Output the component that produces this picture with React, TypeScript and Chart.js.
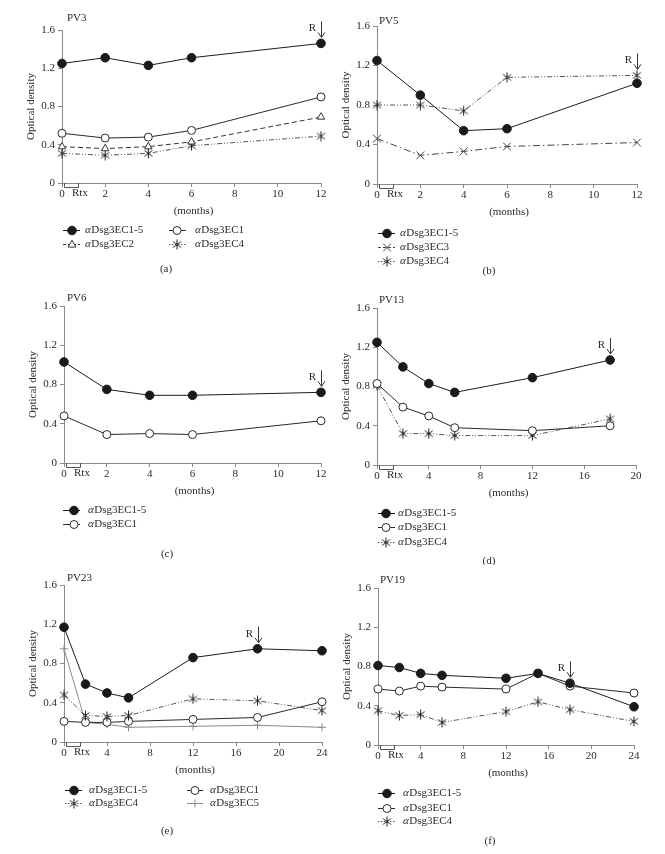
import React, { useEffect, useRef } from 'react';
import { Chart, registerables } from 'chart.js';

Chart.register(...registerables);

const FONT = '"Liberation Serif", "DejaVu Serif", serif';
const TEXT = '#2a2a2a';
const AXIS = '#8a8a8a';

// ---------- data ----------
const Y_TICKS = [0, 0.4, 0.8, 1.2, 1.6];
const X_TICKS_12 = [0, 2, 4, 6, 8, 10, 12];
const X_TICKS_20 = [0, 4, 8, 12, 16, 20];
const X_TICKS_24 = [0, 4, 8, 12, 16, 20, 24];

// (a) PV3
const A_MONTHS = [0, 2, 4, 6, 12];
const A_EC15 = [1.25, 1.31, 1.23, 1.31, 1.46];
const A_EC1 = [0.52, 0.47, 0.48, 0.55, 0.9];
const A_EC2 = [0.38, 0.36, 0.38, 0.43, 0.69];
const A_EC4 = [0.31, 0.29, 0.31, 0.39, 0.49];

// (b) PV5
const B_MONTHS = [0, 2, 4, 6, 12];
const B_EC15 = [1.25, 0.9, 0.54, 0.56, 1.02];
const B_EC3 = [0.46, 0.29, 0.33, 0.38, 0.42];
const B_EC4 = [0.8, 0.8, 0.74, 1.08, 1.1];

// (c) PV6
const C_MONTHS = [0, 2, 4, 6, 12];
const C_EC15 = [1.03, 0.75, 0.69, 0.69, 0.72];
const C_EC1 = [0.48, 0.29, 0.3, 0.29, 0.43];

// (d) PV13
const D_MONTHS = [0, 2, 4, 6, 12, 18];
const D_EC15 = [1.25, 1.0, 0.83, 0.74, 0.89, 1.07];
const D_EC1 = [0.83, 0.59, 0.5, 0.38, 0.35, 0.4];
const D_EC4 = [0.81, 0.32, 0.32, 0.3, 0.3, 0.47];

// (e) PV23
const E_MONTHS = [0, 2, 4, 6, 12, 18, 24];
const E_EC15 = [1.17, 0.59, 0.5, 0.45, 0.86, 0.95, 0.93];
const E_EC4 = [0.48, 0.27, 0.26, 0.27, 0.44, 0.42, 0.32];
const E_EC1 = [0.21, 0.2, 0.2, 0.21, 0.23, 0.25, 0.41];
const E_EC5 = [0.95, 0.2, 0.18, 0.15, 0.16, 0.17, 0.15];

// (f) PV19
const F_MONTHS = [0, 2, 4, 6, 12, 15, 18, 24];
const F_EC15 = [0.81, 0.79, 0.73, 0.71, 0.68, 0.73, 0.63, 0.39];
const F_EC1 = [0.57, 0.55, 0.6, 0.59, 0.57, 0.73, 0.6, 0.53];
const F_EC4 = [0.35, 0.3, 0.31, 0.23, 0.34, 0.44, 0.36, 0.24];

// ---------- styles ----------
type Key = 'EC15' | 'EC1' | 'EC2' | 'EC3' | 'EC4' | 'EC5';
const NAMES: Record<Key, string> = {
  EC15: 'Dsg3EC1-5',
  EC1: 'Dsg3EC1',
  EC2: 'Dsg3EC2',
  EC3: 'Dsg3EC3',
  EC4: 'Dsg3EC4',
  EC5: 'Dsg3EC5',
};

function makeAsterisk(): HTMLCanvasElement {
  const c = document.createElement('canvas');
  c.width = 11;
  c.height = 11;
  const x = c.getContext('2d')!;
  x.strokeStyle = '#222';
  x.lineWidth = 1;
  x.beginPath();
  x.moveTo(1.5, 2.5);
  x.lineTo(9.5, 8.5);
  x.moveTo(9.5, 2.5);
  x.lineTo(1.5, 8.5);
  x.moveTo(5.5, 0.5);
  x.lineTo(5.5, 10.5);
  x.stroke();
  return c;
}
const ASTERISK = makeAsterisk();

const STYLE: Record<Key, any> = {
  EC15: { color: '#1a1a1a', dash: [], point: 'circle', bg: '#1a1a1a', r: 4.3 },
  EC1: { color: '#2a2a2a', dash: [], point: 'circle', bg: '#ffffff', r: 4 },
  EC2: { color: '#333333', dash: [5, 3], point: 'triangle', bg: '#ffffff', r: 4.3 },
  EC3: { color: '#444444', dash: [7, 3, 1.5, 3], point: 'crossRot', bg: '#ffffff', r: 5.5 },
  EC4: { color: '#555555', dash: [5, 2, 1, 2, 1, 2], point: ASTERISK, bg: '#ffffff', r: 4 },
  EC5: { color: '#8a8a8a', dash: [], point: 'cross', bg: '#ffffff', r: 4 },
};

function drawMarker(ctx: CanvasRenderingContext2D, key: Key, x: number, y: number) {
  const s = STYLE[key];
  ctx.save();
  ctx.setLineDash([]);
  ctx.lineWidth = 1;
  ctx.strokeStyle = s.color;
  ctx.fillStyle = s.bg;
  const r = s.r;
  if (s.point === 'circle') {
    ctx.beginPath();
    ctx.arc(x, y, r, 0, Math.PI * 2);
    ctx.fill();
    ctx.stroke();
  } else if (s.point === 'triangle') {
    ctx.beginPath();
    ctx.moveTo(x, y - r);
    ctx.lineTo(x + r * 0.9, y + r * 0.6);
    ctx.lineTo(x - r * 0.9, y + r * 0.6);
    ctx.closePath();
    ctx.fill();
    ctx.stroke();
  } else if (s.point === 'crossRot') {
    const d = r * 0.7;
    ctx.beginPath();
    ctx.moveTo(x - d, y - d);
    ctx.lineTo(x + d, y + d);
    ctx.moveTo(x + d, y - d);
    ctx.lineTo(x - d, y + d);
    ctx.stroke();
  } else if (s.point === 'cross') {
    ctx.beginPath();
    ctx.moveTo(x - r, y);
    ctx.lineTo(x + r, y);
    ctx.moveTo(x, y - r);
    ctx.lineTo(x, y + r);
    ctx.stroke();
  } else {
    ctx.drawImage(s.point, x - 5.5, y - 5.5);
  }
  ctx.restore();
}

// ---------- layout ----------
type Panel = {
  id: string;
  canvas: { x: number; y: number; w: number; h: number };
  area: { l: number; t: number; r: number; b: number };
  xMax: number;
  xTicks: number[];
  months: number[];
  series: [Key, number[]][];
  pv: string;
  pvDx: number;
  pvDy: number;
  rAt: number;
  cols: number[][]; // [lineStart, lineEnd, markerX, textX]
  rows: number[];
  items: [Key, number, number][]; // key, col, row
  caption: string;
  capX: number;
  capY: number;
};

const PANELS: Panel[] = [
  {
    id: 'a', canvas: { x: 0, y: 0, w: 332, h: 285 }, area: { l: 62, t: 30, r: 321, b: 183 },
    xMax: 12, xTicks: X_TICKS_12, months: A_MONTHS,
    series: [['EC15', A_EC15], ['EC1', A_EC1], ['EC2', A_EC2], ['EC4', A_EC4]],
    pv: 'PV3', pvDx: 5, pvDy: -12, rAt: 12,
    cols: [[63, 80, 72, 85], [169, 186, 177, 195]], rows: [230, 244],
    items: [['EC15', 0, 0], ['EC1', 1, 0], ['EC2', 0, 1], ['EC4', 1, 1]],
    caption: '(a)', capX: 166, capY: 269,
  },
  {
    id: 'b', canvas: { x: 332, y: 0, w: 333, h: 285 }, area: { l: 377, t: 26, r: 637, b: 184 },
    xMax: 12, xTicks: X_TICKS_12, months: B_MONTHS,
    series: [['EC15', B_EC15], ['EC3', B_EC3], ['EC4', B_EC4]],
    pv: 'PV5', pvDx: 2, pvDy: -5, rAt: 12,
    cols: [[378, 395, 387, 400]], rows: [233, 247, 261],
    items: [['EC15', 0, 0], ['EC3', 0, 1], ['EC4', 0, 2]],
    caption: '(b)', capX: 489, capY: 271,
  },
  {
    id: 'c', canvas: { x: 0, y: 285, w: 332, h: 280 }, area: { l: 64, t: 306, r: 321, b: 463 },
    xMax: 12, xTicks: X_TICKS_12, months: C_MONTHS,
    series: [['EC15', C_EC15], ['EC1', C_EC1]],
    pv: 'PV6', pvDx: 3, pvDy: -8, rAt: 12,
    cols: [[63, 80, 74, 88]], rows: [510, 524],
    items: [['EC15', 0, 0], ['EC1', 0, 1]],
    caption: '(c)', capX: 167, capY: 554,
  },
  {
    id: 'd', canvas: { x: 332, y: 285, w: 333, h: 280 }, area: { l: 377, t: 308, r: 636, b: 465 },
    xMax: 20, xTicks: X_TICKS_20, months: D_MONTHS,
    series: [['EC15', D_EC15], ['EC1', D_EC1], ['EC4', D_EC4]],
    pv: 'PV13', pvDx: 2, pvDy: -8, rAt: 18,
    cols: [[378, 395, 386, 398]], rows: [513, 527, 542],
    items: [['EC15', 0, 0], ['EC1', 0, 1], ['EC4', 0, 2]],
    caption: '(d)', capX: 489, capY: 561,
  },
  {
    id: 'e', canvas: { x: 0, y: 565, w: 332, h: 289 }, area: { l: 64, t: 585, r: 322, b: 742 },
    xMax: 24, xTicks: X_TICKS_24, months: E_MONTHS,
    series: [['EC15', E_EC15], ['EC4', E_EC4], ['EC1', E_EC1], ['EC5', E_EC5]],
    pv: 'PV23', pvDx: 3, pvDy: -7, rAt: 18,
    cols: [[65, 82, 74, 89], [187, 203, 195, 210]], rows: [790, 803],
    items: [['EC15', 0, 0], ['EC1', 1, 0], ['EC4', 0, 1], ['EC5', 1, 1]],
    caption: '(e)', capX: 167, capY: 831,
  },
  {
    id: 'f', canvas: { x: 332, y: 565, w: 333, h: 289 }, area: { l: 378, t: 588, r: 634, b: 745 },
    xMax: 24, xTicks: X_TICKS_24, months: F_MONTHS,
    series: [['EC15', F_EC15], ['EC1', F_EC1], ['EC4', F_EC4]],
    pv: 'PV19', pvDx: 2, pvDy: -8, rAt: 18,
    cols: [[378, 395, 387, 403]], rows: [793, 808, 821],
    items: [['EC15', 0, 0], ['EC1', 0, 1], ['EC4', 0, 2]],
    caption: '(f)', capX: 490, capY: 841,
  },
];

const Y_AXIS_W = 40;
const X_AXIS_H = 30;

function decorPlugin(p: Panel) {
  return {
    id: 'decor_' + p.id,
    afterDraw(chart: any) {
      const ctx: CanvasRenderingContext2D = chart.ctx;
      const { left, top, right, bottom } = chart.chartArea;
      const ox = p.canvas.x;
      const oy = p.canvas.y;
      ctx.save();
      ctx.fillStyle = TEXT;
      ctx.font = `11px ${FONT}`;

      // y title
      ctx.save();
      ctx.translate(left - 31, (top + bottom) / 2);
      ctx.rotate(-Math.PI / 2);
      ctx.textAlign = 'center';
      ctx.textBaseline = 'middle';
      ctx.fillText('Optical density', 0, 0);
      ctx.restore();

      // x title
      ctx.textAlign = 'center';
      ctx.textBaseline = 'middle';
      ctx.fillText('(months)', (left + right) / 2 + 2, bottom + 28);

      // PV label
      ctx.textAlign = 'left';
      ctx.fillText(p.pv, left + p.pvDx, top + p.pvDy);

      // Rtx bracket
      ctx.strokeStyle = '#555';
      ctx.lineWidth = 1;
      ctx.beginPath();
      ctx.moveTo(left + 2.5, bottom);
      ctx.lineTo(left + 2.5, bottom + 4.5);
      ctx.lineTo(left + 16.5, bottom + 4.5);
      ctx.lineTo(left + 16.5, bottom);
      ctx.stroke();
      ctx.textAlign = 'left';
      ctx.fillText('Rtx', left + 10, bottom + 10.5);

      // R arrow
      const xs = chart.scales.x;
      const ys = chart.scales.y;
      const idx = p.months.indexOf(p.rAt);
      let maxV = 0;
      p.series.forEach(([, v]) => { if (v[idx] > maxV) maxV = v[idx]; });
      const px = Math.round(xs.getPixelForValue(p.rAt)) + 0.5;
      const py = ys.getPixelForValue(maxV);
      ctx.strokeStyle = '#333';
      ctx.beginPath();
      ctx.moveTo(px, py - 22);
      ctx.lineTo(px, py - 6);
      ctx.moveTo(px - 3.5, py - 11);
      ctx.lineTo(px, py - 6);
      ctx.lineTo(px + 3.5, py - 11);
      ctx.stroke();
      ctx.textAlign = 'center';
      ctx.fillText('R', px - 9, py - 15);

      // legend
      p.items.forEach(([key, c, r]) => {
        const col = p.cols[c];
        const y = p.rows[r] - oy;
        const s = STYLE[key];
        ctx.save();
        ctx.strokeStyle = s.color;
        ctx.lineWidth = 1;
        ctx.setLineDash(key === 'EC4' ? [1.5, 1.5] : key === 'EC2' || key === 'EC3' ? [3, 2] : []);
        ctx.beginPath();
        ctx.moveTo(col[0] - ox, y + 0.5);
        ctx.lineTo(col[1] - ox, y + 0.5);
        ctx.stroke();
        ctx.restore();
        drawMarker(ctx, key, col[2] - ox, y + 0.5);
        ctx.textAlign = 'left';
        ctx.textBaseline = 'middle';
        ctx.font = `italic 11px ${FONT}`;
        ctx.fillText('\u03b1', col[3] - ox, y);
        const w = ctx.measureText('\u03b1').width;
        ctx.font = `11px ${FONT}`;
        ctx.fillText(NAMES[key], col[3] - ox + w + 0.5, y);
      });

      // caption
      ctx.textAlign = 'center';
      ctx.fillText(p.caption, p.capX - ox, p.capY - oy);
      ctx.restore();
    },
  };
}

function PanelChart({ p }: { p: Panel }) {
  const ref = useRef<HTMLCanvasElement>(null);
  useEffect(() => {
    if (!ref.current) return;
    const datasets = p.series.map(([key, vals]) => {
      const s = STYLE[key];
      return {
        label: NAMES[key],
        data: p.months.map((m, i) => ({ x: m, y: vals[i] })),
        borderColor: s.color,
        borderWidth: 1,
        borderDash: s.dash,
        pointStyle: s.point,
        pointRadius: s.r,
        pointBackgroundColor: s.bg,
        pointBorderColor: s.color,
        pointBorderWidth: 1,
        clip: false as any,
        tension: 0,
        fill: false,
      };
    });
    const tickFont = { family: FONT, size: 11 };
    const chart = new Chart(ref.current, {
      type: 'line',
      data: { datasets },
      options: {
        responsive: false,
        animation: false,
        events: [],
        layout: {
          padding: {
            left: p.area.l - p.canvas.x - Y_AXIS_W,
            top: p.area.t - p.canvas.y,
            right: p.canvas.x + p.canvas.w - p.area.r,
            bottom: p.canvas.y + p.canvas.h - p.area.b - X_AXIS_H,
          },
        },
        plugins: { legend: { display: false }, tooltip: { enabled: false } },
        scales: {
          x: {
            type: 'linear',
            min: 0,
            max: p.xMax,
            afterBuildTicks: (s: any) => { s.ticks = p.xTicks.map((v) => ({ value: v })); },
            afterFit: (s: any) => { s.height = X_AXIS_H; },
            grid: { drawOnChartArea: false, drawTicks: true, tickLength: 4, color: AXIS },
            border: { display: true, color: AXIS, width: 1 },
            ticks: { font: tickFont, color: TEXT, padding: 1, maxRotation: 0, autoSkip: false },
          },
          y: {
            type: 'linear',
            min: 0,
            max: 1.6,
            afterBuildTicks: (s: any) => { s.ticks = Y_TICKS.map((v) => ({ value: v })); },
            afterFit: (s: any) => { s.width = Y_AXIS_W; },
            grid: { drawOnChartArea: false, drawTicks: true, tickLength: 4, color: AXIS },
            border: { display: true, color: AXIS, width: 1 },
            ticks: {
              font: tickFont,
              color: TEXT,
              padding: 3,
              callback: (v: any) => (Number(v) === 0 ? '0' : Number(v).toFixed(1)),
            },
          },
        },
      } as any,
      plugins: [decorPlugin(p)],
    });
    return () => chart.destroy();
  }, [p]);
  return (
    <canvas
      ref={ref}
      width={p.canvas.w}
      height={p.canvas.h}
      style={{
        position: 'absolute',
        left: p.canvas.x,
        top: p.canvas.y,
        width: p.canvas.w,
        height: p.canvas.h,
        display: 'block',
      }}
    />
  );
}

export default function App() {
  return (
    <div
      style={{
        position: 'absolute',
        left: 0,
        top: 0,
        width: 665,
        height: 854,
        background: '#ffffff',
        overflow: 'hidden',
      }}
    >
      {PANELS.map((p) => (
        <PanelChart key={p.id} p={p} />
      ))}
    </div>
  );
}
